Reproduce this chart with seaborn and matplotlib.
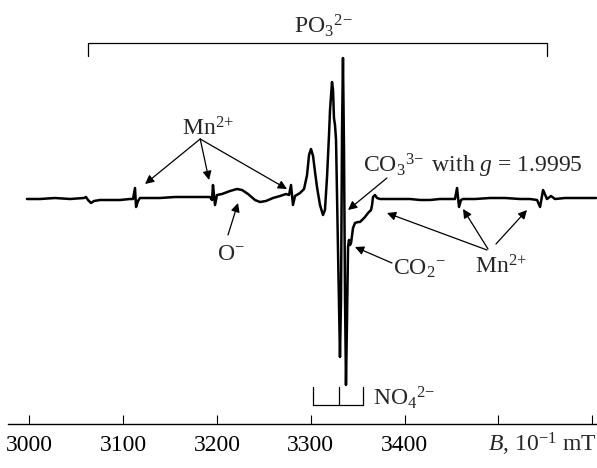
import matplotlib
matplotlib.use('Agg')
import numpy as np
import pandas as pd
import matplotlib.pyplot as plt
import seaborn as sns

# EPR spectrum: field B (10^-1 mT) and signal (arb. units)
field = [2997.5, 3011.4, 3027.4, 3043.4, 3058.3, 3060.4, 3062.6, 3065.8, 3069.0, 3075.4,
         3086.0, 3096.7, 3107.4, 3110.6, 3112.7, 3113.8, 3115.9, 3118.0, 3128.7, 3139.3,
         3155.3, 3171.3, 3187.3, 3192.6, 3194.8, 3195.8, 3198.0, 3200.1, 3205.4, 3214.0,
         3221.4, 3226.8, 3233.2, 3240.6, 3245.9, 3252.3, 3259.8, 3267.3, 3273.7, 3276.9,
         3279.0, 3281.1, 3283.3, 3288.6, 3292.9, 3296.1, 3298.2, 3300.3, 3302.5, 3304.6,
         3306.7, 3309.9, 3313.1, 3315.2, 3317.4, 3319.5, 3320.6, 3322.7, 3323.8, 3324.8,
         3325.9, 3327.0, 3329.1, 3331.2, 3332.3, 3333.4, 3334.4, 3335.5, 3336.6, 3337.6,
         3338.7, 3339.8, 3340.8, 3341.9, 3343.0, 3345.1, 3347.2, 3350.4, 3352.6, 3354.7,
         3357.9, 3361.1, 3364.3, 3365.4, 3366.4, 3368.5, 3370.7, 3373.9, 3384.5, 3395.2,
         3405.9, 3416.5, 3427.2, 3437.8, 3448.5, 3453.8, 3456.0, 3458.1, 3460.2, 3462.4,
         3475.2, 3491.2, 3507.1, 3523.1, 3533.8, 3541.3, 3544.5, 3547.7, 3551.9, 3556.2,
         3560.4, 3571.1, 3587.1, 3604.2]
signal = [0, 0, 1, 0, 1, 2, -1, -4, -2, -1,
          -1, -1, 0, 0, 11, -8, -2, 1, 1, 1,
          2, 2, 2, 2, -1, 14, -6, 4, 5, 8,
          10, 9, 5, -1, -3, -2, 1, 3, 5, 4,
          14, -6, 3, 6, 10, 24, 44, 50, 43, 27,
          12, -6, -16, -11, 22, 64, 89, 117, 109, 81,
          74, 59, -51, -158, -101, 69, 141, 49, -101, -186,
          -121, -48, -41, -46, -44, -29, -24, -23, -23, -21,
          -18, -14, -11, -6, 2, 4, 1, 0, 0, 0,
          0, -1, -1, 0, 0, 0, 11, -8, -1, 0,
          0, 1, 1, 0, 0, -1, -8, 9, 0, 3,
          0, 1, 1, 1]

xticks = [3000, 3100, 3200, 3300, 3400, 3500, 3600]
xtick_labels = ['3000', '3100', '3200', '3300', '3400', '', '']

# bracket spans (field) for the PO3 and NO4 hyperfine patterns
po3_span = [3062.6, 3551.9]
no4_lines = [3302.5, 3330.2, 3355.8]

sns.set_style('white')
plt.rcParams['font.family'] = ['Liberation Serif', 'DejaVu Serif']
plt.rcParams['mathtext.fontset'] = 'custom'
plt.rcParams['mathtext.rm'] = 'Liberation Serif'
plt.rcParams['mathtext.it'] = 'Liberation Serif:italic'

fig = plt.figure(figsize=(5.97, 4.68), dpi=100)
ax = fig.add_axes([8/597, 44/468, 589/597, 424/468])

df = pd.DataFrame({'B': field, 'I': signal})
sns.lineplot(data=df, x='B', y='I', ax=ax, color='black', lw=1.8,
             estimator=None, sort=False)

ax.set_xlim(2977.3, 3605.2)
ax.set_ylim(-225, 199)
for s in ['left', 'top', 'right']:
    ax.spines[s].set_visible(False)
ax.spines['bottom'].set_color('black')
ax.spines['bottom'].set_linewidth(1.0)
ax.set_xticks(xticks)
ax.set_xticklabels(xtick_labels)
ax.set_yticks([])
ax.tick_params(axis='x', bottom=True, direction='in', length=6.5, width=0.8, pad=8,
               labelsize=17, colors='black')
ax.set_xlabel('')
ax.set_ylabel('')

fs = 17
lw_thin = 0.9

# PO3 bracket
ax.plot([po3_span[0], po3_span[0], po3_span[1], po3_span[1]], [143, 156, 156, 143],
        color='black', lw=lw_thin)
ax.text(3313, 166, r'PO$_3{}^{2\!-}$', fontsize=fs, ha='center', va='baseline')

# NO4 bracket
ax.plot([no4_lines[0], no4_lines[0], no4_lines[2], no4_lines[2]], [-188, -206, -206, -188],
        color='black', lw=lw_thin)
ax.plot([no4_lines[1], no4_lines[1]], [-206, -188], color='black', lw=lw_thin)
ax.text(3366.4, -206, r'NO$_4{}^{2\!-}$', fontsize=fs, ha='left', va='baseline')

arrow = dict(arrowstyle='-|>', lw=lw_thin, color='black', mutation_scale=13,
             shrinkA=0, shrinkB=0)

# Mn2+ left
ax.text(3163, 64, r'Mn$^{2\!+}$', fontsize=fs, ha='left', va='baseline')
for tip in [(3123.4, 15), (3191.6, 19), (3274.7, 10)]:
    ax.annotate('', xy=tip, xytext=(3182.2, 60), arrowprops=arrow)

# O-
ax.text(3200.3, -61, r'O$^{-}$', fontsize=fs, ha='left', va='baseline')
ax.annotate('', xy=(3222.5, -4), xytext=(3211.8, -36), arrowprops=arrow)

# CO3 3-
ax.text(3355.8, 26, r'CO$_3{}^{3\!-}$ with $g$ = 1.9995', fontsize=fs,
        ha='left', va='baseline')
ax.annotate('', xy=(3339.8, -11), xytext=(3381.3, 21), arrowprops=arrow)

# CO2-
ax.text(3387.7, -76, r'CO$_2{}^{-}$', fontsize=fs, ha='left', va='baseline')
ax.annotate('', xy=(3347.2, -48), xytext=(3386.6, -64), arrowprops=arrow)

# Mn2+ right
ax.text(3475.2, -74, r'Mn$^{2\!+}$', fontsize=fs, ha='left', va='baseline')
for src, tip in [((3487.9, -51), (3381.3, -14)),
                 ((3489.0, -50), (3462.4, -10)),
                 ((3497.5, -45), (3530.6, -11))]:
    ax.annotate('', xy=tip, xytext=src, arrowprops=arrow)

# axis label
ax.text(3489, -253, r'$B$, 10$^{-1}$ mT', fontsize=17, ha='left', va='baseline',
        clip_on=False)

fig.savefig('out.png', dpi=100)
